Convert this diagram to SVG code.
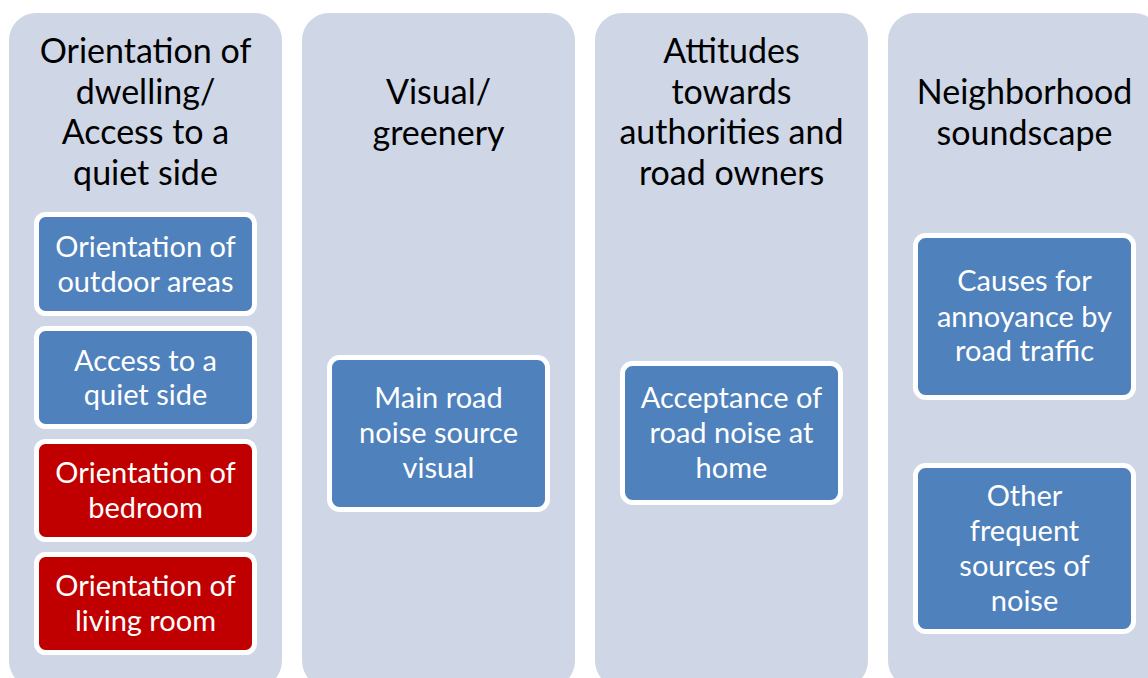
<svg xmlns="http://www.w3.org/2000/svg" width="1148" height="678" viewBox="0 0 1148 678">
<style>
.col{fill:#CFD6E6}
.title{font-family:Lato,"Liberation Sans",sans-serif;font-size:34px;fill:#000;text-anchor:middle}
.box{stroke:#fff;stroke-width:5}
.blue{fill:#4F81BD}
.red{fill:#C00000}
.bt{font-family:Lato,"Liberation Sans",sans-serif;font-size:29px;fill:#fff;text-anchor:middle}
</style>
<rect width="1148" height="678" fill="#fff"/>
<g id="col1">
<rect class="col" x="9" y="13" width="273" height="675" rx="27"/>
<text class="title" x="145.5" y="63">Orientation of</text>
<text class="title" x="145.5" y="104">dwelling/</text>
<text class="title" x="145.5" y="144">Access to a</text>
<text class="title" x="145.5" y="185">quiet side</text>
</g>
<g id="box-outdoor">
<rect class="box blue" x="36.5" y="214.5" width="218" height="99" rx="9"/>
<text class="bt" x="145.5" y="257">Orientation of</text>
<text class="bt" x="145.5" y="292">outdoor areas</text>
</g>
<g id="box-quiet">
<rect class="box blue" x="36.5" y="328.5" width="218" height="98" rx="9"/>
<text class="bt" x="145.5" y="371">Access to a</text>
<text class="bt" x="145.5" y="405">quiet side</text>
</g>
<g id="box-bedroom">
<rect class="box red" x="36.5" y="441.5" width="218" height="98" rx="9"/>
<text class="bt" x="145.5" y="483">Orientation of</text>
<text class="bt" x="145.5" y="518">bedroom</text>
</g>
<g id="box-living">
<rect class="box red" x="36.5" y="554.5" width="218" height="98" rx="9"/>
<text class="bt" x="145.5" y="596">Orientation of</text>
<text class="bt" x="145.5" y="631">living room</text>
</g>
<g id="col2">
<rect class="col" x="302" y="13" width="273" height="675" rx="27"/>
<text class="title" x="438.5" y="104">Visual/</text>
<text class="title" x="438.5" y="145">greenery</text>
</g>
<g id="box-visual">
<rect class="box blue" x="329.5" y="357.5" width="218" height="152" rx="10"/>
<text class="bt" x="438.5" y="408">Main road</text>
<text class="bt" x="438.5" y="443">noise source</text>
<text class="bt" x="438.5" y="478">visual</text>
</g>
<g id="col3">
<rect class="col" x="595" y="13" width="273" height="675" rx="27"/>
<text class="title" x="731.5" y="63">Attitudes</text>
<text class="title" x="731.5" y="104">towards</text>
<text class="title" x="731.5" y="144">authorities and</text>
<text class="title" x="731.5" y="185">road owners</text>
</g>
<g id="box-acceptance">
<rect class="box blue" x="622.5" y="363.5" width="218" height="139" rx="10"/>
<text class="bt" x="731.5" y="408">Acceptance of</text>
<text class="bt" x="731.5" y="443">road noise at</text>
<text class="bt" x="731.5" y="478">home</text>
</g>
<g id="col4">
<rect class="col" x="888" y="13" width="273" height="675" rx="27"/>
<text class="title" x="1024.5" y="104">Neighborhood</text>
<text class="title" x="1024.5" y="145">soundscape</text>
</g>
<g id="box-causes">
<rect class="box blue" x="915.5" y="235.5" width="218" height="162" rx="10"/>
<text class="bt" x="1024.5" y="291">Causes for</text>
<text class="bt" x="1024.5" y="327">annoyance by</text>
<text class="bt" x="1024.5" y="361">road traffic</text>
</g>
<g id="box-other">
<rect class="box blue" x="915.5" y="465.5" width="218" height="166" rx="10"/>
<text class="bt" x="1024.5" y="506">Other</text>
<text class="bt" x="1024.5" y="541">frequent</text>
<text class="bt" x="1024.5" y="576">sources of</text>
<text class="bt" x="1024.5" y="611">noise</text>
</g>
</svg>
